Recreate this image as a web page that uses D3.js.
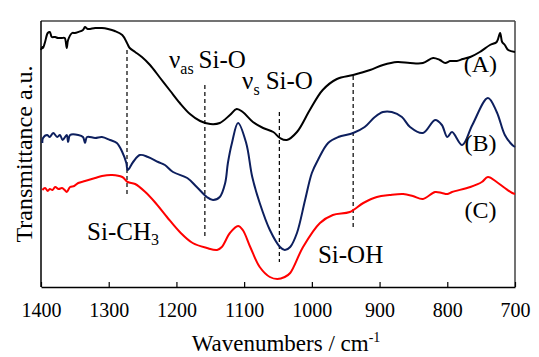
<!DOCTYPE html>
<html>
<head>
<meta charset="utf-8">
<script src="https://cdn.jsdelivr.net/npm/d3@7"></script>
<style>
  body { margin: 0; background: #fff; }
  svg text { font-family: "Liberation Serif", "DejaVu Serif", serif; fill: #000; }
</style>
</head>
<body>
<svg class="ftir" width="539" height="357"></svg>
<script>
// wavenumber (cm-1) and transmittance (a.u.)
let wnA = [1400,1398,1397,1394,1390,1387,1384,1379,1375,1369,1365,1362,1360,1354,1350,1345,1338,1335,1331,1320,1310,1301,1291,1280,1273,1269,1261,1251,1239,1224,1209,1195,1180,1165,1150,1136,1121,1111,1102,1087,1072,1057,1047,1037,1022,1003,984,963,939,914,895,874,855,836,821,811,803,796,786,777,766,752,737,727,722,719,715,710,700];
let valA = [237,240,239,245,254,255,250,250,249,249,249,239,247,254,254,255,257,260,258,259,259,258,256,252,244,239,235,230,222,209,196,184,173,166,163,164,172,178,175,165,159,155,149,147,155,177,197,208,212,217,222,225,224,224,229,227,224,226,226,228,230,235,242,245,254,245,242,237,235];

let wnB = [1398,1397,1391,1387,1382,1376,1372,1368,1362,1360,1357,1345,1338,1335,1332,1320,1310,1298,1288,1280,1274,1272,1264,1254,1242,1227,1217,1205,1184,1170,1155,1146,1136,1128,1124,1118,1109,1097,1088,1077,1062,1047,1040,1032,1022,1010,1000,991,976,961,939,922,907,895,882,867,855,836,818,808,800,793,778,763,740,727,715,704,700];
let valB = [144,149,152,150,154,150,152,147,152,145,152,152,150,144,150,149,150,147,144,135,124,117,125,132,130,125,122,115,109,100,90,87,90,104,124,144,164,144,110,84,57,40,37,40,54,87,114,127,144,150,154,160,170,175,175,170,160,154,167,162,150,155,142,162,189,175,152,142,140];

let wnC = [1398,1394,1390,1387,1383,1379,1374,1369,1365,1362,1357,1351,1345,1335,1320,1310,1295,1280,1272,1261,1246,1232,1214,1195,1176,1155,1140,1133,1121,1109,1102,1091,1077,1062,1051,1040,1032,1013,988,969,944,924,904,885,865,851,836,818,808,800,793,766,749,740,727,715,704,700];
let valC = [97,99,96,98,97,100,98,99,97,95,100,101,104,106,109,111,112,110,105,103,95,85,70,55,44,39,37,40,54,61,57,40,20,10,8,10,14,40,64,72,75,84,90,92,93,91,88,95,94,93,95,100,105,110,105,99,94,93];

let seriesNames = ["(A)", "(B)", "(C)"];
let seriesColors = ["#000000", "#0d1f5e", "#ff0000"];

// dashed markers: wavenumber, from value, to value
let markWn = [1273, 1158, 1048, 939];
let markTop = [237, 202, 175, 211];
let markBottom = [90, 50, 25, 59];

let xTicks = [1400,1300,1200,1100,1000,900,800,700];

let svg = d3.select(".ftir");
let serif = "'Liberation Serif', 'DejaVu Serif', serif";
let margin = { top: 21, right: 24, bottom: 70, left: 41 };
let width = 539, height = 357;

let x = d3.scaleLinear().domain([1400, 700]).range([margin.left, width - margin.right]);
let y = d3.scaleLinear().domain([0, 266]).range([height - margin.bottom, margin.top]);

let plot = svg.append("g");

// frame
plot.append("line").attr("x1", x(1400)).attr("x2", x(700)).attr("y1", y(266)).attr("y2", y(266))
  .attr("stroke", "#444").attr("stroke-width", 1.5);
plot.append("line").attr("x1", x(700)).attr("x2", x(700)).attr("y1", y(266)).attr("y2", y(0))
  .attr("stroke", "#444").attr("stroke-width", 1.5);
plot.append("line").attr("x1", x(1400)).attr("x2", x(1400)).attr("y1", y(266)).attr("y2", y(0))
  .attr("stroke", "#000").attr("stroke-width", 1.5);

let xAxis = d3.axisBottom(x).tickValues(xTicks).tickFormat(d3.format("d"))
  .tickSizeInner(-5).tickSizeOuter(0).tickPadding(16);
let xGroup = plot.append("g").attr("transform", "translate(0," + y(0) + ")").call(xAxis)
  .attr("font-family", serif);
xGroup.select(".domain").attr("stroke", "#000").attr("stroke-width", 1.5);
xGroup.selectAll(".tick line").attr("stroke", "#000").attr("stroke-width", 1.2);
xGroup.selectAll(".tick text").attr("font-size", 20).attr("font-family", serif);

// dashed lines
markWn.forEach((w, i) => {
  plot.append("line")
    .attr("x1", x(w)).attr("x2", x(w))
    .attr("y1", y(markTop[i])).attr("y2", y(markBottom[i]))
    .attr("stroke", "#000").attr("stroke-width", 1.2)
    .attr("stroke-dasharray", "4,3");
});

let line = d3.line()
  .x(d => x(d[0]))
  .y(d => y(d[1]))
  .curve(d3.curveCatmullRom.alpha(0.5));

let series = [
  d3.zip(wnA, valA),
  d3.zip(wnB, valB),
  d3.zip(wnC, valC)
];

series.forEach((s, i) => {
  plot.append("path")
    .datum(s)
    .attr("fill", "none")
    .attr("stroke", seriesColors[i])
    .attr("stroke-width", 2)
    .attr("stroke-linejoin", "round")
    .attr("d", line);
});

// series labels
let labelWn = [751, 751, 751];
let labelVal = [215, 136, 69];
seriesNames.forEach((n, i) => {
  svg.append("text").attr("x", x(labelWn[i])).attr("y", y(labelVal[i]))
    .attr("text-anchor", "middle").attr("font-family", serif).style("font-size", "24px").text(n);
});

// band annotations
let t1 = svg.append("text").attr("x", x(1211)).attr("y", y(219))
  .attr("font-family", serif).style("font-size", "25px");
t1.append("tspan").text("\u03bd");
t1.append("tspan").attr("dy", 6).style("font-size", "16px").text("as");
t1.append("tspan").attr("dy", -6).attr("dx", 5).text("Si-O");

let t2 = svg.append("text").attr("x", x(1103)).attr("y", y(198))
  .attr("font-family", serif).style("font-size", "25px");
t2.append("tspan").text("\u03bd");
t2.append("tspan").attr("dy", 6).style("font-size", "16px").text("s");
t2.append("tspan").attr("dy", -6).attr("dx", 6).text("Si-O");

let t3 = svg.append("text").attr("x", x(1332)).attr("y", y(47))
  .attr("font-family", serif).style("font-size", "25px");
t3.append("tspan").text("Si-CH");
t3.append("tspan").attr("dy", 5).style("font-size", "16px").text("3");

svg.append("text").attr("x", x(991)).attr("y", y(24))
  .attr("font-family", serif).style("font-size", "25px").text("Si-OH");

// axis labels
let xl = svg.append("text")
  .attr("x", (x(1400) + x(700)) / 2 + 8)
  .attr("y", 351)
  .attr("text-anchor", "middle")
  .attr("font-family", serif)
  .style("font-size", "23px");
xl.append("tspan").text("Wavenumbers / cm");
xl.append("tspan").attr("dy", -9).style("font-size", "14px").text("-1");

svg.append("text")
  .attr("transform", "translate(32," + ((y(0) + y(266)) / 2) + ") rotate(-90)")
  .attr("text-anchor", "middle")
  .attr("font-family", serif)
  .style("font-size", "24px")
  .text("Transmittance a.u.");
</script>
</body>
</html>
